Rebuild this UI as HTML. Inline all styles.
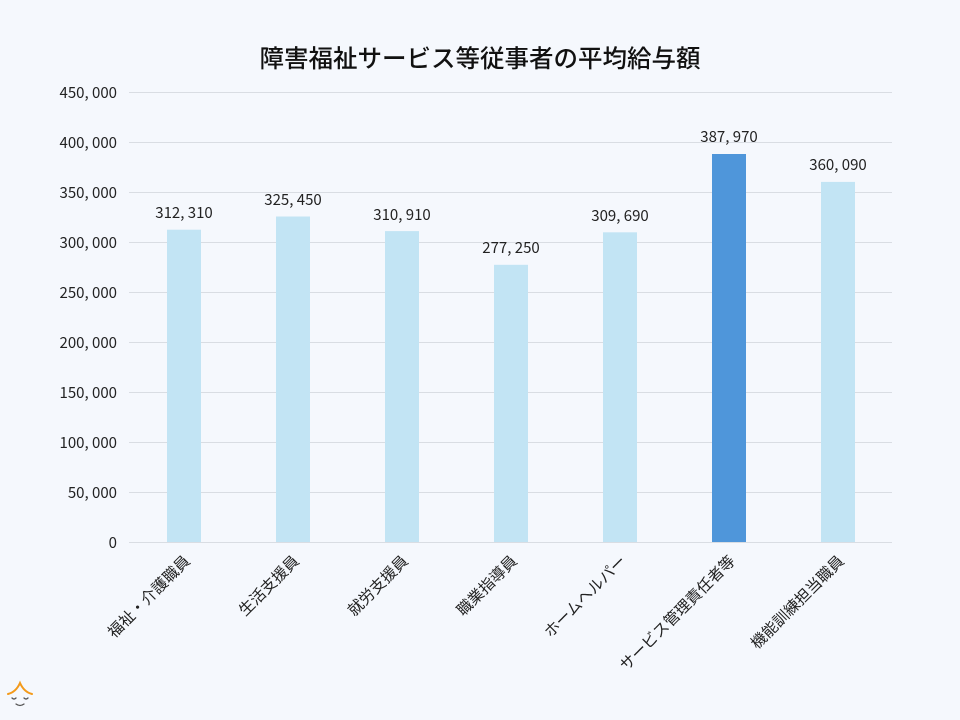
<!DOCTYPE html>
<html><head><meta charset="utf-8"><style>
html,body{margin:0;padding:0;background:#f5f8fd;}
svg{display:block;font-family:"Liberation Sans","Noto Sans CJK JP",sans-serif;}
</style></head><body>
<svg width="960" height="720" viewBox="0 0 960 720" xmlns="http://www.w3.org/2000/svg">
<rect width="960" height="720" fill="#f5f8fd"/>
<text x="480" y="67" text-anchor="middle" font-size="24.5" font-weight="500" fill="#111" font-family="'Noto Sans CJK JP',sans-serif">障害福祉サービス等従事者の平均給与額</text>
<g stroke="#d9dde3" stroke-width="1">
<line x1="129" x2="892" y1="92.5" y2="92.5"/><line x1="129" x2="892" y1="142.5" y2="142.5"/>
<line x1="129" x2="892" y1="192.5" y2="192.5"/><line x1="129" x2="892" y1="242.5" y2="242.5"/>
<line x1="129" x2="892" y1="292.5" y2="292.5"/><line x1="129" x2="892" y1="342.5" y2="342.5"/>
<line x1="129" x2="892" y1="392.5" y2="392.5"/><line x1="129" x2="892" y1="442.5" y2="442.5"/>
<line x1="129" x2="892" y1="492.5" y2="492.5"/><line x1="129" x2="892" y1="542.5" y2="542.5"/>
</g>
<g font-size="15" fill="#222" text-anchor="end" font-family="'Noto Sans CJK JP',sans-serif">
<text x="117" y="98">450, 000</text><text x="117" y="148">400, 000</text>
<text x="117" y="198">350, 000</text><text x="117" y="248">300, 000</text>
<text x="117" y="298">250, 000</text><text x="117" y="348">200, 000</text>
<text x="117" y="398">150, 000</text><text x="117" y="448">100, 000</text>
<text x="117" y="498">50, 000</text><text x="117" y="548">0</text>
</g>
<g fill="#c2e4f4">
<rect x="167" y="229.7" width="34" height="312.3"/>
<rect x="276" y="216.5" width="34" height="325.5"/>
<rect x="385" y="231.1" width="34" height="310.9"/>
<rect x="494" y="264.8" width="34" height="277.2"/>
<rect x="603" y="232.3" width="34" height="309.7"/>
<rect x="712" y="154" width="34" height="388" fill="#4f96da"/>
<rect x="821" y="181.9" width="34" height="360.1"/>
</g>
<g font-size="15" fill="#222" text-anchor="middle" font-family="'Noto Sans CJK JP',sans-serif">
<text x="184" y="218">312, 310</text>
<text x="293" y="205">325, 450</text>
<text x="402" y="220">310, 910</text>
<text x="511" y="253">277, 250</text>
<text x="620" y="221">309, 690</text>
<text x="729" y="142">387, 970</text>
<text x="838" y="170">360, 090</text>
</g>
<g font-size="15.5" fill="#222" text-anchor="end" font-family="'Noto Sans CJK JP',sans-serif">
<text transform="translate(191,562) rotate(-45)">福祉・介護職員</text>
<text transform="translate(300,562) rotate(-45)">生活支援員</text>
<text transform="translate(409,562) rotate(-45)">就労支援員</text>
<text transform="translate(518,562) rotate(-45)">職業指導員</text>
<text transform="translate(627,562) rotate(-45)">ホームヘルパー</text>
<text transform="translate(736,562) rotate(-45)">サービス管理責任者等</text>
<text transform="translate(845,562) rotate(-45)">機能訓練担当職員</text>
</g>
<g fill="none" stroke-linecap="round">
<path d="M8 694 Q16 692 20 683 Q24 692 32 694" stroke="#f39a1a" stroke-width="2"/>
<path d="M12 698 q2 2 4 0 M24 698 q2 2 4 0 M16 704 q4 3 8 0" stroke="#555" stroke-width="1.3"/>
</g>
</svg>
</body></html>
